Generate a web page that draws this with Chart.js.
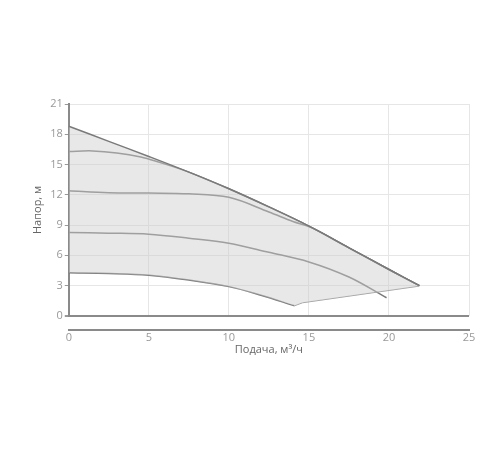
<!DOCTYPE html>
<html>
<head>
<meta charset="utf-8">
<script src="https://cdn.jsdelivr.net/npm/chart.js@4/dist/chart.umd.min.js"></script>
<style>
    html, body { margin: 0; padding: 0; background: #fff; }
    #wrap { width: 500px; height: 450px; }
</style>
</head>
<body>
<div id="wrap"><canvas id="pump-chart"></canvas></div>
<script>
// Подача (м³/ч) and напор (м)
const topX = [0, 2.5, 5, 7.5, 10, 12.5, 15, 17.5, 20, 21.9];
const topY = [18.8, 17.3, 15.8, 14.25, 12.6, 10.8, 8.9, 6.75, 4.6, 3.0];

const curve2X = [0, 1.5, 3, 4.5, 5.5, 7.5, 10, 12.5, 15, 17.5, 20, 21.9];
const curve2Y = [16.3, 16.35, 16.15, 15.75, 15.3, 14.25, 12.6, 10.8, 8.9, 6.75, 4.6, 3.0];

const curve3X = [0, 2.5, 5, 7.5, 10, 12.5, 14, 15.2, 17.5, 20, 21.9];
const curve3Y = [12.4, 12.2, 12.17, 12.1, 11.75, 10.3, 9.35, 8.72, 6.75, 4.6, 3.0];

const curve4X = [0, 2.5, 5, 7.5, 10, 12.5, 15, 17.5, 19.85];
const curve4Y = [8.27, 8.2, 8.1, 7.7, 7.2, 6.3, 5.35, 3.85, 1.8];

const curve5X = [0, 2.5, 5, 7.5, 10, 12, 14.1];
const curve5Y = [4.27, 4.2, 4.03, 3.55, 2.9, 2.05, 1.0];

const closeX = [14.1, 14.6, 21.9];
const closeY = [1.0, 1.3, 2.95];

const yTicks = [0, 3, 6, 9, 12, 15, 18, 21];

function toPoints(xs, ys) {
    return xs.map((x, i) => ({ x: x, y: ys[i] }));
}

const lineColor = '#7a7a7a';
const gridColor = '#e6e6e6';
const fontFamily = '"Open Sans", "DejaVu Sans", sans-serif';

function curve(label, xs, ys, width) {
    return {
        label: label,
        data: toPoints(xs, ys),
        borderColor: lineColor,
        borderWidth: width,
        pointRadius: 0,
        tension: 0.35,
        fill: false
    };
}

const datasets = [
    // fill region: top curve down to the lower boundary (index 1)
    {
        label: 'area',
        data: toPoints(topX, topY),
        borderColor: lineColor,
        borderWidth: 1.5,
        pointRadius: 0,
        tension: 0.35,
        backgroundColor: 'rgba(205,205,205,0.45)',
        fill: { target: 1 }
    },
    {
        label: 'lower',
        data: toPoints(curve5X.concat(closeX.slice(1)), curve5Y.concat(closeY.slice(1))),
        borderWidth: 0,
        borderColor: 'rgba(0,0,0,0)',
        pointRadius: 0,
        tension: 0,
        fill: false
    },
    {
        label: 'close',
        data: toPoints(closeX, closeY),
        borderColor: '#a0a0a0',
        borderWidth: 1,
        pointRadius: 0,
        tension: 0,
        fill: false
    },
    curve('c2', curve2X, curve2Y, 1.5),
    curve('c3', curve3X, curve3Y, 1.5),
    curve('c4', curve4X, curve4Y, 1.5),
    curve('c5', curve5X, curve5Y, 1.5)
];

new Chart(document.getElementById('pump-chart').getContext('2d'), {
    type: 'line',
    data: { datasets: datasets },
    options: {
        responsive: true,
        maintainAspectRatio: false,
        animation: false,
        layout: { padding: { top: 104, right: 31, bottom: 95, left: 27 } },
        plugins: {
            legend: { display: false },
            tooltip: { enabled: false }
        },
        scales: {
            x: {
                type: 'linear',
                position: 'bottom',
                min: 0,
                max: 25,
                ticks: { display: false, stepSize: 5 },
                grid: {
                    color: gridColor,
                    lineWidth: 1,
                    drawTicks: true,
                    tickLength: 14,
                    tickColor: 'rgba(0,0,0,0)'
                },
                border: { display: false }
            },
            x2: {
                type: 'linear',
                position: 'bottom',
                min: 0,
                max: 25,
                ticks: {
                    stepSize: 5,
                    color: '#999',
                    padding: 1,
                    font: { family: fontFamily, size: 11 }
                },
                grid: { display: false, drawTicks: false },
                border: { display: true, color: '#8a8a8a', width: 2 },
                title: {
                    display: true,
                    text: 'Подача, м³/ч',
                    color: '#666',
                    padding: 0,
                    font: { family: fontFamily, size: 11, lineHeight: 0.9 }
                }
            },
            y: {
                type: 'linear',
                min: 0,
                max: 21,
                afterBuildTicks: function(scale) {
                    scale.ticks = yTicks.map(v => ({ value: v }));
                },
                ticks: {
                    color: '#999',
                    padding: 2,
                    font: { family: fontFamily, size: 11 }
                },
                grid: {
                    color: ctx => ctx.tick && ctx.tick.value === 0 ? '#8a8a8a' : gridColor,
                    lineWidth: ctx => ctx.tick && ctx.tick.value === 0 ? 2 : 1,
                    tickLength: 4,
                    tickColor: '#999'
                },
                border: { display: true, color: '#8a8a8a', width: 2 },
                title: {
                    display: true,
                    text: 'Напор, м',
                    color: '#666',
                    padding: 4,
                    font: { family: fontFamily, size: 11 }
                }
            }
        }
    }
});
</script>
</body>
</html>
